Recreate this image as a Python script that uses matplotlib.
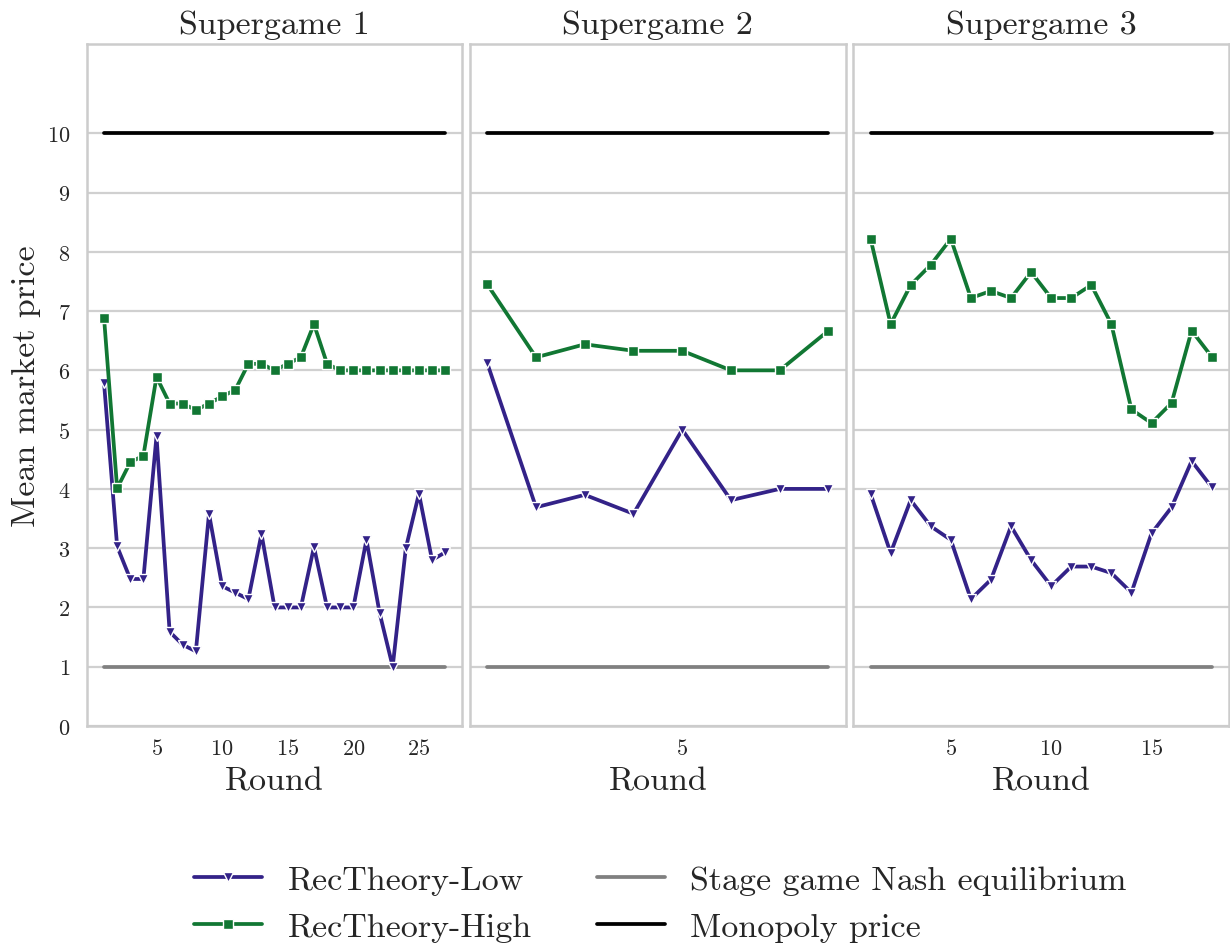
import matplotlib
matplotlib.use('Agg')
import matplotlib.pyplot as plt
import seaborn as sns

# 每个 supergame 的平均市场价格（按轮次）
low_sg1 = [5.79, 3.03, 2.48, 2.48, 4.89, 1.59, 1.37, 1.26, 3.58, 2.36, 2.25, 2.14, 3.24, 2.0,
           2.0, 2.0, 3.02, 2.0, 2.0, 2.0, 3.14, 1.91, 1.0, 3.0, 3.92, 2.80, 2.93]
high_sg1 = [6.89, 4.01, 4.45, 4.56, 5.89, 5.44, 5.44, 5.33, 5.44, 5.56, 5.67, 6.11, 6.11, 6.0,
            6.11, 6.22, 6.78, 6.11, 6.0, 6.0, 6.0, 6.0, 6.0, 6.0, 6.0, 6.0, 6.0]

low_sg2 = [6.12, 3.69, 3.90, 3.58, 5.0, 3.81, 4.0, 4.0]
high_sg2 = [7.45, 6.22, 6.44, 6.33, 6.33, 6.0, 6.0, 6.67]

low_sg3 = [3.92, 2.92, 3.81, 3.37, 3.14, 2.14, 2.47, 3.37, 2.80, 2.36, 2.69, 2.69, 2.58, 2.25,
           3.25, 3.69, 4.47, 4.03]
high_sg3 = [8.22, 6.78, 7.44, 7.78, 8.22, 7.22, 7.34, 7.22, 7.66, 7.22, 7.22, 7.44, 6.78, 5.34,
            5.11, 5.45, 6.67, 6.23]

supergames = ['Supergame 1', 'Supergame 2', 'Supergame 3']
low_series = [low_sg1, low_sg2, low_sg3]
high_series = [high_sg1, high_sg2, high_sg3]

nash_price = 1
monopoly_price = 10

sns.set_style('whitegrid')
plt.rcParams['font.family'] = ['cmr10', 'DejaVu Serif']
plt.rcParams['axes.formatter.use_mathtext'] = True
plt.rcParams['mathtext.fontset'] = 'cm'

BLUE = '#332288'
GREEN = '#117733'

fig, axes = plt.subplots(1, 3, figsize=(12.3, 9.45), dpi=100, sharey=True)
plt.subplots_adjust(left=0.0707, right=0.999, top=0.952, bottom=0.2307, wspace=0.0213)

handles = {}
for i, ax in enumerate(axes):
    low = low_series[i]
    high = high_series[i]
    rounds = list(range(1, len(low) + 1))

    # 参考线：阶段博弈纳什均衡和垄断价格
    h_nash, = ax.plot(rounds, [nash_price] * len(rounds), color='grey', lw=2.7,
                      label='Stage game Nash equilibrium')
    h_mono, = ax.plot(rounds, [monopoly_price] * len(rounds), color='black', lw=2.7,
                      label='Monopoly price')
    h_low, = ax.plot(rounds, low, color=BLUE, lw=2.7, marker='v', ms=7.5,
                     mec='white', mew=1.0, label='RecTheory-Low')
    h_high, = ax.plot(rounds, high, color=GREEN, lw=2.7, marker='s', ms=7.5,
                      mec='white', mew=1.0, label='RecTheory-High')
    handles = {'low': h_low, 'high': h_high, 'nash': h_nash, 'mono': h_mono}

    ax.set_title(supergames[i], fontsize=24.5, pad=8, color='#262626')
    ax.set_xlabel('Round', fontsize=24.5, labelpad=6, color='#262626')
    ax.set_xticks([t for t in range(5, len(rounds) + 1, 5)])
    ax.set_ylim(0, 11.5)
    ax.set_yticks(range(0, 11))
    ax.grid(axis='x', visible=False)
    ax.grid(axis='y', color='#d0d0d0', lw=1.6)
    ax.tick_params(axis='both', length=0, labelsize=16, colors='#262626')
    ax.tick_params(axis='x', pad=9)
    ax.tick_params(axis='y', pad=12)
    for s in ax.spines.values():
        s.set_color('#cccccc')
        s.set_linewidth(1.8)

axes[0].set_ylabel('Mean market price', fontsize=24.5, labelpad=4, color='#262626')

order = ['low', 'high', 'nash', 'mono']
fig.legend([handles[k] for k in order], [handles[k].get_label() for k in order],
           loc='center', bbox_to_anchor=(0.537, 0.043), ncol=2, frameon=False,
           fontsize=24.5, handlelength=2.0, handletextpad=0.75, columnspacing=1.9,
           labelspacing=0.5)

plt.savefig('out.png', dpi=100)
